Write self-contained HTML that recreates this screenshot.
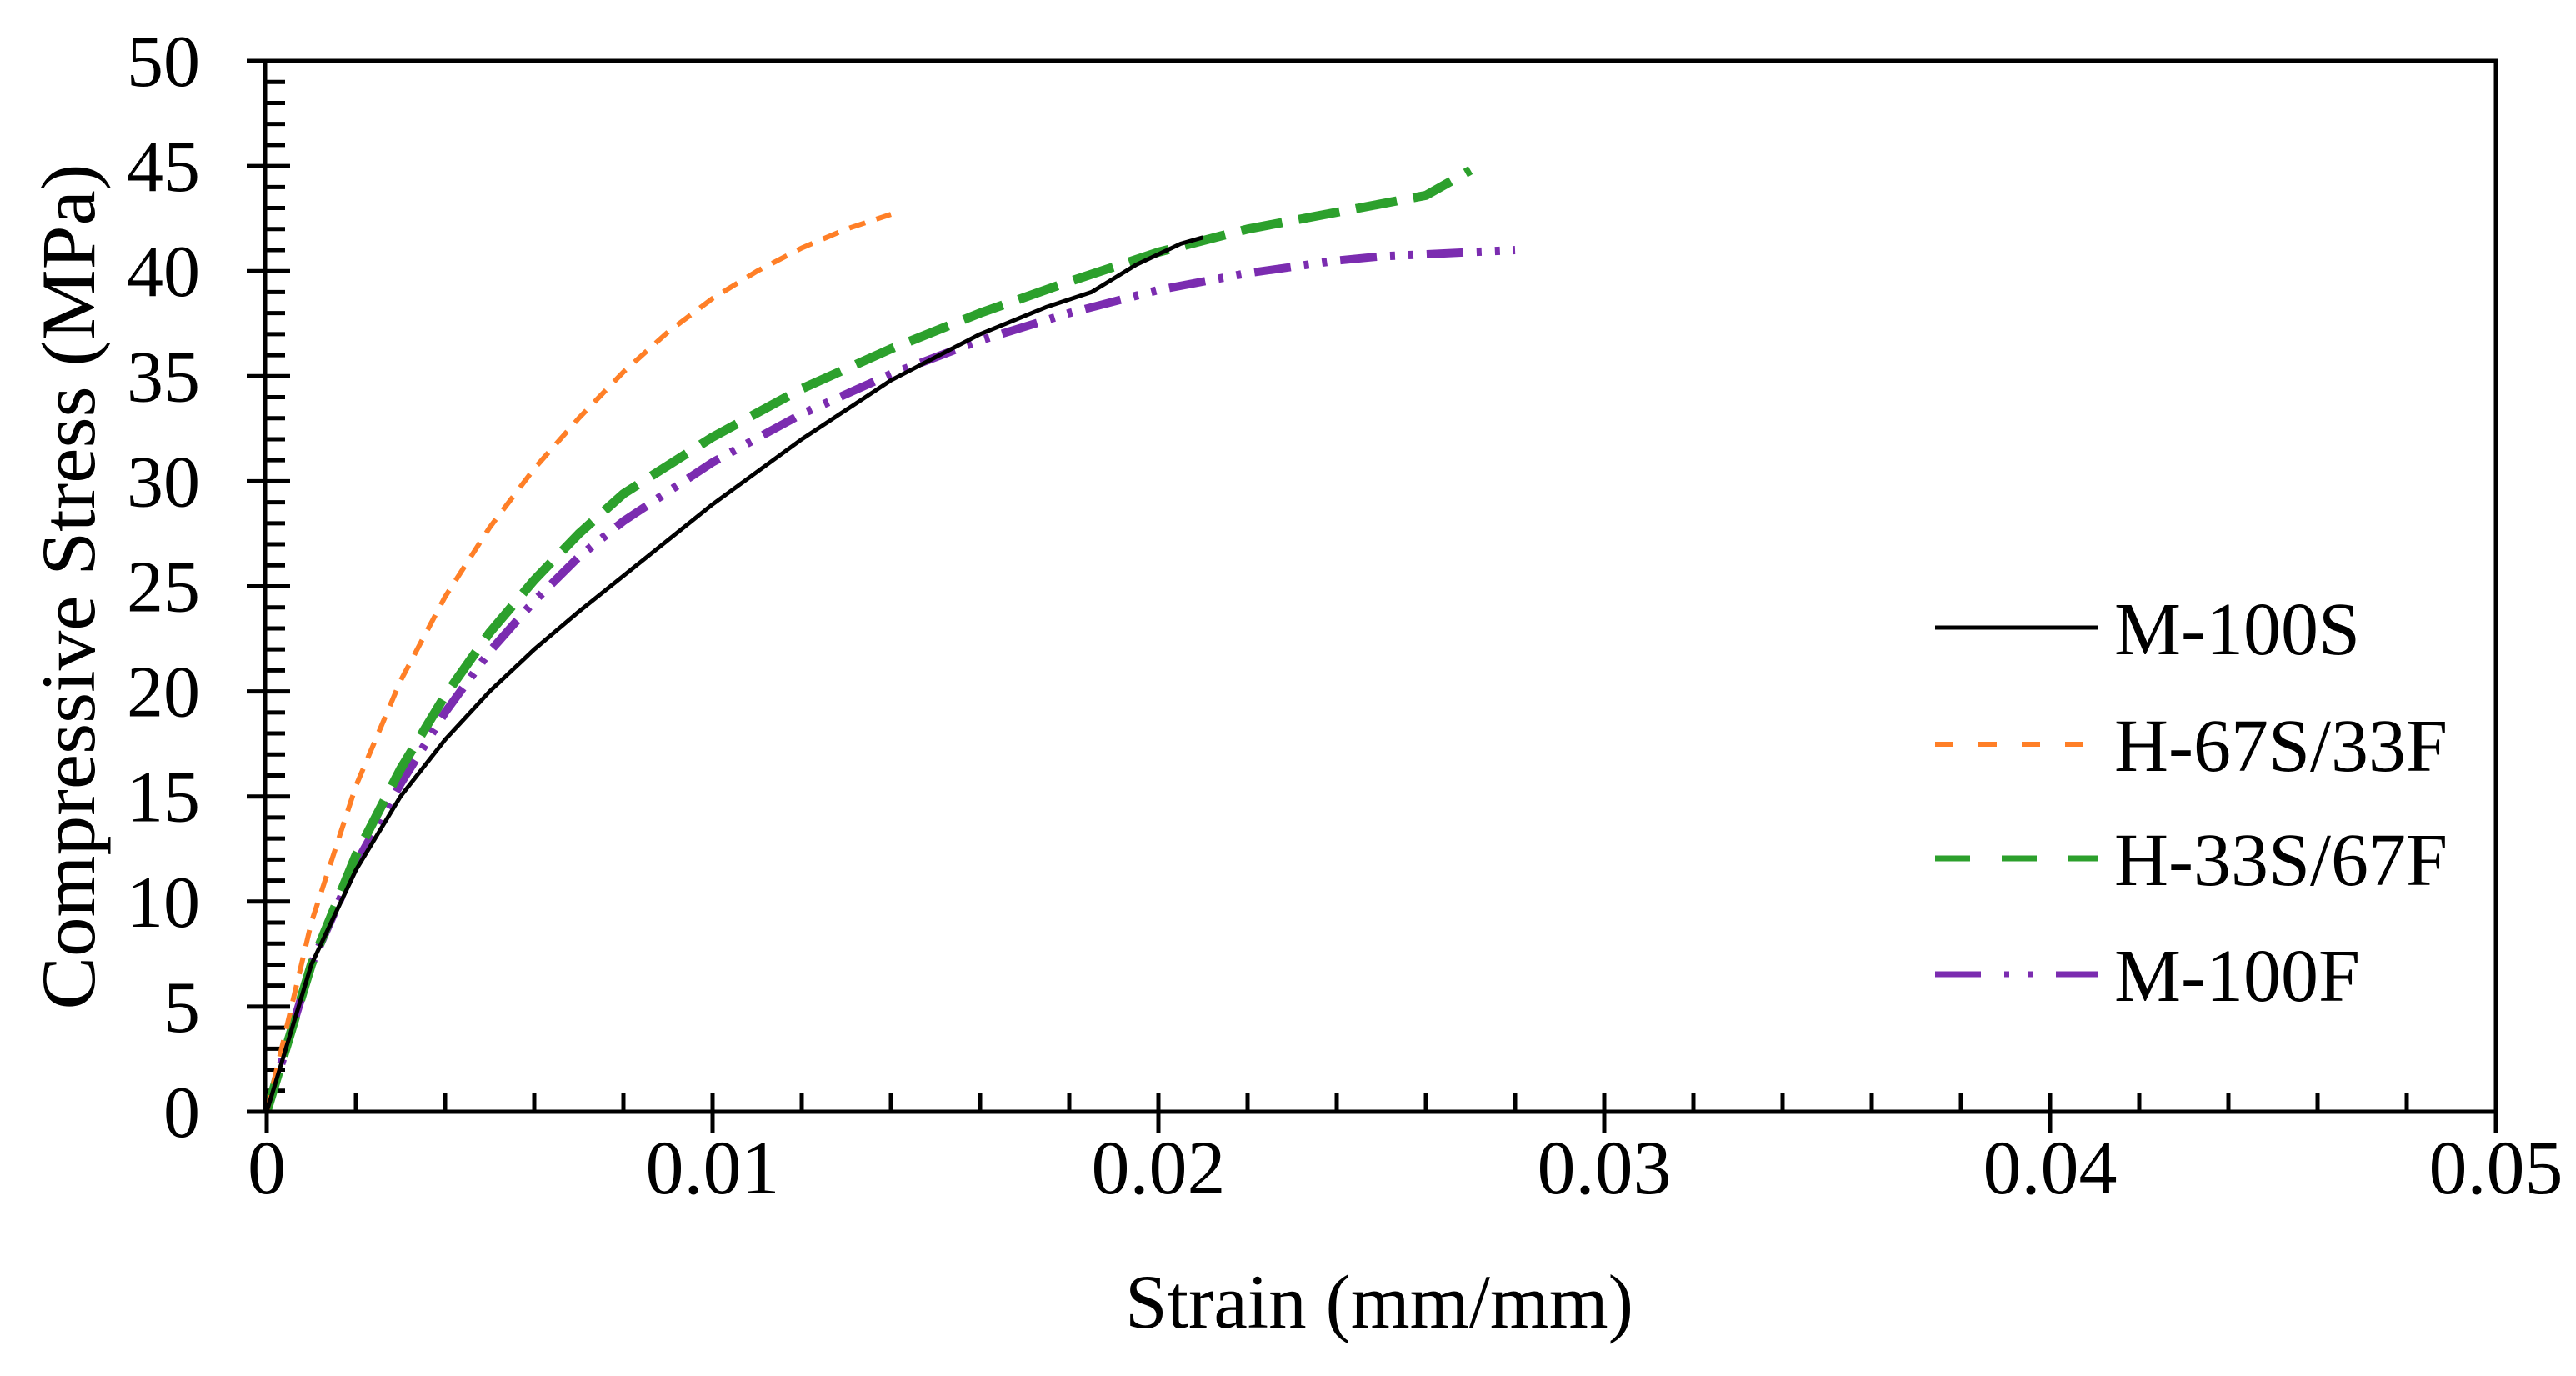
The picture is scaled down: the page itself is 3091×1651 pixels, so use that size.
<!DOCTYPE html>
<html><head><meta charset="utf-8">
<style>
html,body{margin:0;padding:0;background:#fff;}
svg{display:block;font-family:"Liberation Serif","Times New Roman",serif;}
</style></head>
<body>
<svg id="chart" width="3091" height="1651" viewBox="0 0 3091 1651" xmlns="http://www.w3.org/2000/svg">
  <rect x="0" y="0" width="3091" height="1651" fill="#fff"/>
  <g id="grid-ticks"></g>
  <g id="series"></g>
  <rect x="318" y="73" width="2677" height="1261" fill="none" stroke="#000" stroke-width="5"/>
  <g id="labels"></g>
  <text x="1655" y="1593" font-size="92" text-anchor="middle" textLength="610" lengthAdjust="spacingAndGlyphs">Strain (mm/mm)</text>
  <text transform="translate(113,704) rotate(-90)" x="0" y="0" font-size="92" text-anchor="middle" textLength="1015" lengthAdjust="spacingAndGlyphs">Compressive Stress (MPa)</text>
  <g id="legend"></g>
</svg>
<script>
const xTicks = [0, 0.01, 0.02, 0.03, 0.04, 0.05];
const xTickLabels = ["0", "0.01", "0.02", "0.03", "0.04", "0.05"];
const yTicks = [0, 5, 10, 15, 20, 25, 30, 35, 40, 45, 50];
const yTickLabels = ["0", "5", "10", "15", "20", "25", "30", "35", "40", "45", "50"];
const seriesNames = ["M-100S", "H-67S/33F", "H-33S/67F", "M-100F"];

const m100sStrain = [0, 0.001, 0.002, 0.003, 0.004, 0.005, 0.006, 0.007, 0.008, 0.010, 0.012, 0.014, 0.016, 0.0175, 0.0185, 0.0195, 0.0205, 0.021];
const m100sStress = [0, 7, 11.5, 15, 17.7, 20, 22, 23.8, 25.5, 28.9, 32, 34.8, 37, 38.3, 39, 40.3, 41.3, 41.6];
const h67Strain = [0, 0.001, 0.002, 0.003, 0.004, 0.005, 0.006, 0.007, 0.008, 0.009, 0.010, 0.011, 0.012, 0.013, 0.014];
const h67Stress = [0, 9, 15.5, 20.5, 24.5, 27.8, 30.6, 33, 35.2, 37.1, 38.7, 40, 41.1, 42, 42.7];
const h33Strain = [0, 0.001, 0.002, 0.003, 0.004, 0.005, 0.006, 0.007, 0.008, 0.010, 0.012, 0.014, 0.016, 0.018, 0.020, 0.022, 0.024, 0.026, 0.027];
const h33Stress = [0, 7, 12.2, 16.3, 19.8, 22.8, 25.3, 27.5, 29.4, 32.1, 34.4, 36.3, 38, 39.5, 40.9, 42, 42.8, 43.6, 44.8];
const m100fStrain = [0, 0.001, 0.002, 0.003, 0.004, 0.005, 0.006, 0.007, 0.008, 0.010, 0.012, 0.014, 0.016, 0.018, 0.020, 0.022, 0.024, 0.025, 0.028];
const m100fStress = [0, 7, 11.8, 15.6, 19, 21.9, 24.3, 26.4, 28.1, 30.9, 33.2, 35.1, 36.7, 38, 39.1, 39.9, 40.5, 40.7, 41.0];

const NS = "http://www.w3.org/2000/svg";
const X0 = 320, X1 = 2995, Y0 = 1334, Y1 = 73;
function xs(v){ return X0 + (v - 0) / 0.05 * (X1 - X0); }
function ys(v){ return Y0 - v / 50 * (Y0 - Y1); }
function mk(tag, attrs, parent){
  const e = document.createElementNS(NS, tag);
  for (const k in attrs) e.setAttribute(k, attrs[k]);
  parent.appendChild(e);
  return e;
}
const tg = document.getElementById('grid-ticks');
const lg = document.getElementById('labels');
for (let i = 0; i <= 25; i++){
  const v = i * 0.002, x = xs(v), major = (i % 5 === 0);
  const t = mk('line', {x1:x, x2:x, y1: major ? Y0+26 : Y0, y2: Y0-22, stroke:'#000', 'stroke-width':5}, tg);
  
  
}
for (let i = 0; i <= 50; i++){
  const y = ys(i), major = (i % 5 === 0);
  const t = mk('line', {x1: major ? 296 : 318, x2: major ? 348 : 342, y1:y, y2:y, stroke:'#000', 'stroke-width':5}, tg);
  
  
}
xTicks.forEach((v, i) => {
  const t = mk('text', {x: xs(v), y: 1432, 'font-size': 92, 'text-anchor': 'middle'}, lg);
  t.textContent = xTickLabels[i];
  
  
});
yTicks.forEach((v, i) => {
  const t = mk('text', {x: 240, y: ys(v) + 30, 'font-size': 88, 'text-anchor': 'end'}, lg);
  t.textContent = yTickLabels[i];
  
  
});

const styles = [
  {color:'#000000', w:5, dash:''},
  {color:'#FF7F27', w:6, dash:'20 14'},
  {color:'#2CA02C', w:11, dash:'50 20'},
  {color:'#7B2CB0', w:10, dash:'44 16 6 16 6 16'}
];
const sx = [m100sStrain, h67Strain, h33Strain, m100fStrain];
const sy = [m100sStress, h67Stress, h33Stress, m100fStress];
const sg = document.getElementById('series');
const order = [3, 2, 1, 0];
order.forEach(k => {
  const d = sx[k].map((v, i) => (i ? 'L' : 'M') + xs(v).toFixed(1) + ' ' + ys(sy[k][i]).toFixed(1)).join(' ');
  const p = mk('path', {d: d, fill:'none', stroke: styles[k].color, 'stroke-width': styles[k].w, 'stroke-linejoin':'round'}, sg);
  if (styles[k].dash) p.setAttribute('stroke-dasharray', styles[k].dash);
  
  
});

const leg = document.getElementById('legend');
const legY = [753, 893, 1030, 1169];
const legDash = ['', '22 30', '42 38', '55 28 6 22 6 28'];
const legW = [5, 6, 7, 7];
seriesNames.forEach((n, k) => {
  const l = mk('line', {x1:2322, x2:2518, y1:legY[k], y2:legY[k], stroke: styles[k].color, 'stroke-width': legW[k]}, leg);
  if (legDash[k]) l.setAttribute('stroke-dasharray', legDash[k]);
  
  
  const t = mk('text', {x: 2537, y: legY[k] + 32, 'font-size': 90}, leg);
  t.textContent = n;
  
  
});
</script>
</body></html>
